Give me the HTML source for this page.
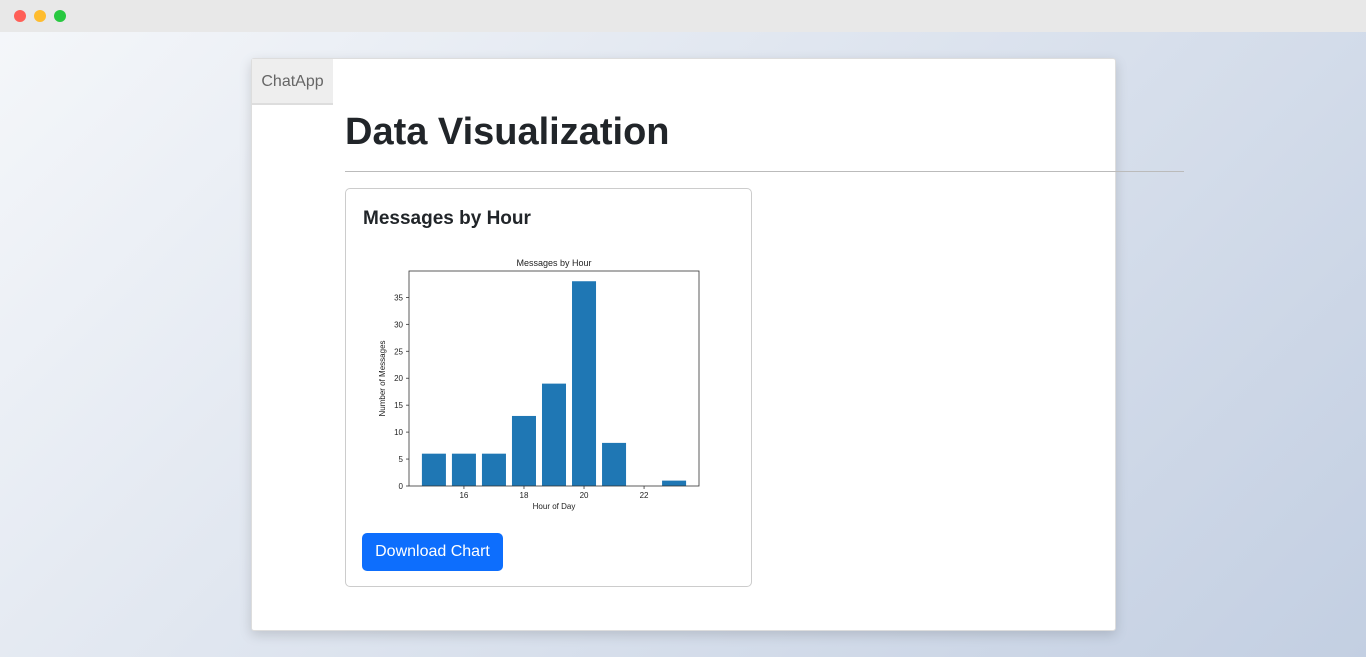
<!DOCTYPE html>
<html><head><meta charset="utf-8"><style>
*{box-sizing:border-box;margin:0;padding:0}
body{width:1366px;height:657px;overflow:hidden;font-family:"Liberation Sans",sans-serif;background:linear-gradient(135deg,#f5f7fa 0%,#c3cfe2 100%);position:relative}
.bar-top{position:absolute;left:0;top:0;width:1366px;height:32px;background:#e8e8e8}
.dot{position:absolute;top:10px;width:12px;height:12px;border-radius:50%}
.win{position:absolute;left:251px;top:58px;width:865px;height:573px;background:#fff;border:1px solid #ddd;box-shadow:0 4px 12px rgba(0,0,0,.15);border-radius:3px}
.brand{position:absolute;left:0;top:0;width:81px;height:46px;background:#eee;color:#666;font-size:16px;line-height:46px;text-align:center;border-bottom:2px solid #ddd}
h1{position:absolute;left:93px;top:52px;font-size:38px;font-weight:bold;color:#212529}
.hr{position:absolute;left:93px;top:112px;width:839px;height:1px;background:#bbb}
.card{position:absolute;left:93px;top:129px;width:407px;height:399px;border:1px solid #ccc;border-radius:5px}
.card h5{position:absolute;left:17px;top:19px;font-size:19px;font-weight:bold;color:#212529}
.btn{position:absolute;left:16px;top:344px;width:141px;height:38px;background:#0d6efd;color:#fff;border-radius:5px;font-size:16px;line-height:38px;text-align:center}
</style></head><body>
<div class="bar-top">
<div class="dot" style="left:14px;background:#ff5f57"></div>
<div class="dot" style="left:34px;background:#febc2e"></div>
<div class="dot" style="left:54px;background:#28c840"></div>
</div>
<div class="win">
<div class="brand">ChatApp</div>
<h1>Data Visualization</h1>
<div class="hr"></div>
<div class="card">
<h5>Messages by Hour</h5>
<svg id="chart" width="360" height="280" style="position:absolute;left:20px;top:60px"></svg>
<div class="btn">Download Chart</div>
</div>
</div>
<script>
const hours=[15,16,17,18,19,20,21,23];
const counts=[6,6,6,13,19,38,8,1];
const xTicks=[16,18,20,22];
const yTicks=[0,5,10,15,20,25,30,35];
const L=43,R=333,T=22,B=237;
const xMin=14.17,xMax=23.83,yMax=39.9;
const sx=v=>L+(v-xMin)/(xMax-xMin)*(R-L);
const sy=v=>B-v/yMax*(B-T);
const svg=document.getElementById('chart');
const NS='http://www.w3.org/2000/svg';
function mk(t,a){const e=document.createElementNS(NS,t);for(const k in a)e.setAttribute(k,a[k]);svg.appendChild(e);return e;}
hours.forEach((h,i)=>{
 const r=mk('rect',{x:sx(h-0.4),y:sy(counts[i]),width:sx(h+0.4)-sx(h-0.4),height:B-sy(counts[i]),fill:'#1f77b4'});
 
 
});
const fr=mk('rect',{x:L,y:T,width:R-L,height:B-T,fill:'none',stroke:'#333','stroke-width':0.8});


xTicks.forEach(v=>{
 mk('line',{x1:sx(v),x2:sx(v),y1:B,y2:B+3,stroke:'#333','stroke-width':0.8});
 const t=mk('text',{x:sx(v),y:B+12,'font-size':8,'text-anchor':'middle',fill:'#222'});t.textContent=v;
 
 
});
yTicks.forEach(v=>{
 mk('line',{x1:L-3,x2:L,y1:sy(v),y2:sy(v),stroke:'#333','stroke-width':0.8});
 const t=mk('text',{x:L-6,y:sy(v)+3,'font-size':8,'text-anchor':'end',fill:'#222'});t.textContent=v;
 
 
});
let t=mk('text',{x:(L+R)/2,y:T-5,'font-size':9,'text-anchor':'middle',fill:'#222'});t.textContent='Messages by Hour';


t=mk('text',{x:(L+R)/2,y:B+23,'font-size':8,'text-anchor':'middle',fill:'#222'});t.textContent='Hour of Day';


t=mk('text',{x:0,y:0,'font-size':8,'text-anchor':'middle',fill:'#222',transform:`translate(19,${(T+B)/2}) rotate(-90)`});t.textContent='Number of Messages';


</script>
</body></html>
